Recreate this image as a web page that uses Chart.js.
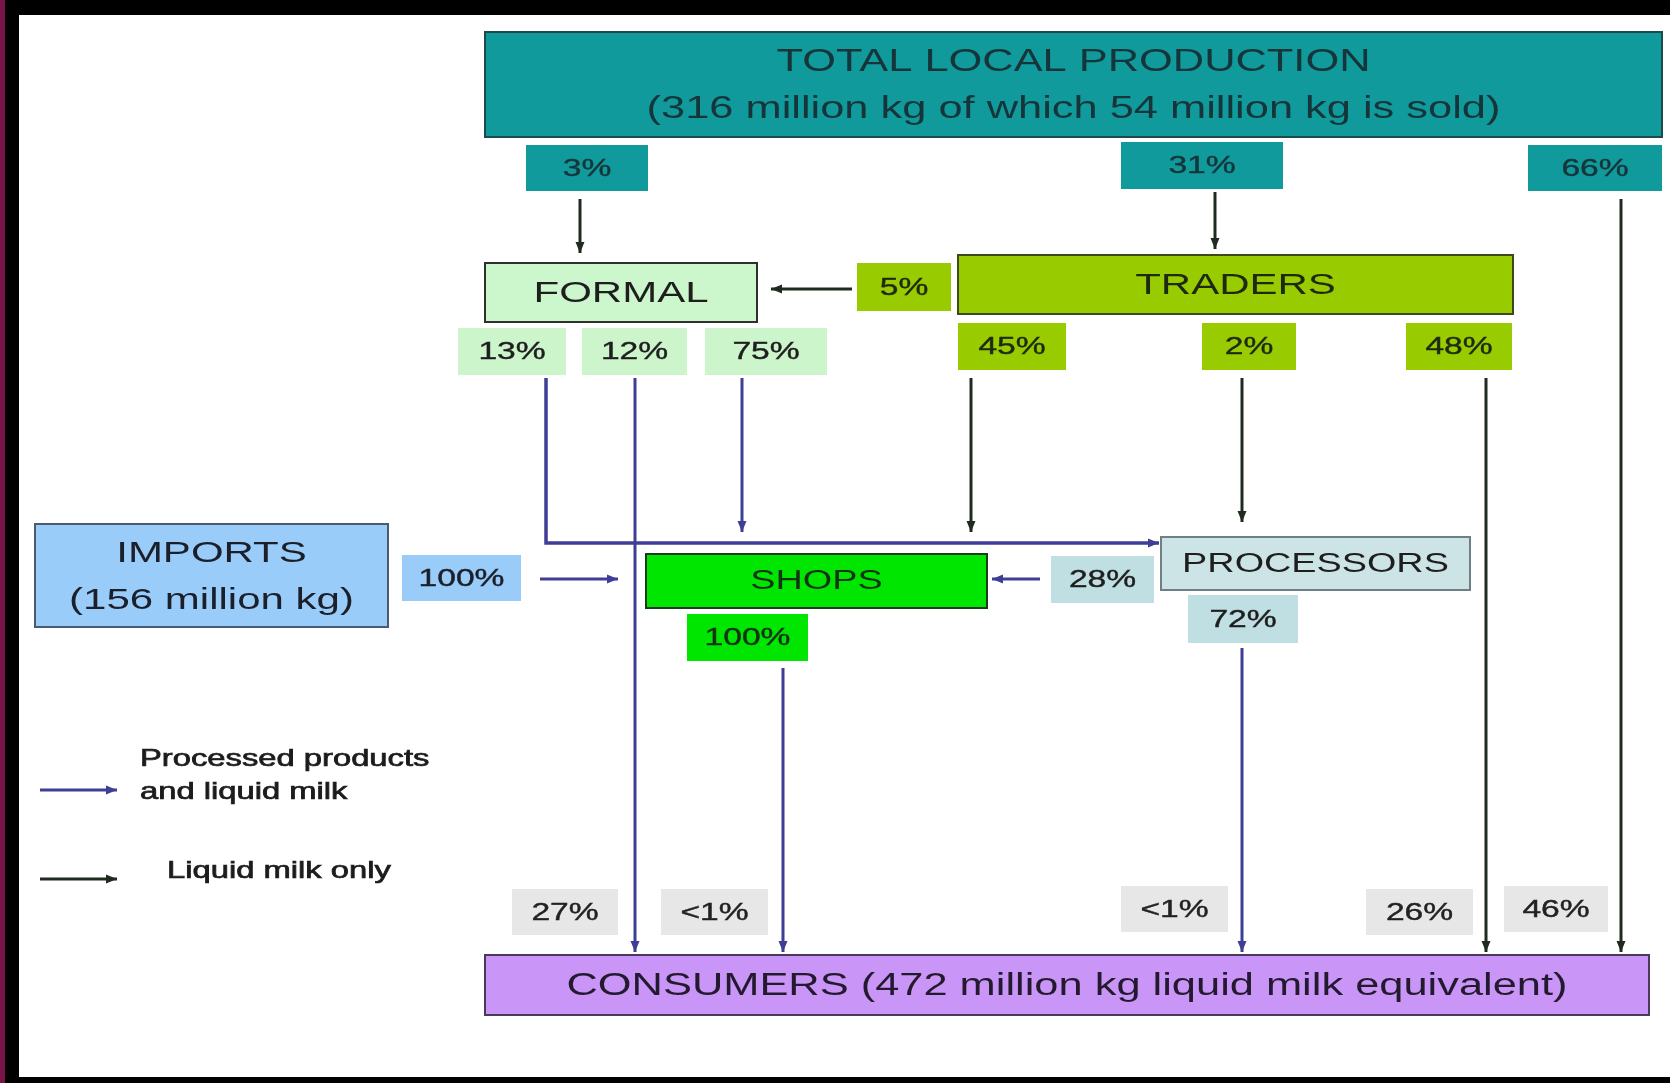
<!DOCTYPE html>
<html>
<head>
<meta charset="utf-8">
<title>Milk flow</title>
<script src="https://cdn.jsdelivr.net/npm/chart.js@4"></script>
<style>
  html, body { margin: 0; padding: 0; background: #fff; }
  #wrap { width: 1670px; height: 1083px; }
</style>
</head>
<body>
<div id="wrap"><canvas id="flowChart" width="1670" height="1083"></canvas></div>
<script>
// ---- data ----
const nodeNames = ['TOTAL LOCAL PRODUCTION', 'FORMAL', 'TRADERS', 'IMPORTS', 'SHOPS', 'PROCESSORS', 'CONSUMERS'];
const nodeNotes = ['(316 million kg of which 54 million kg is sold)', '', '', '(156 million kg)', '', '', '(472 million kg liquid milk equivalent)'];
const productionShares = ['3%', '31%', '66%'];
const tradersToFormal = ['5%'];
const formalShares = ['13%', '12%', '75%'];
const tradersShares = ['45%', '2%', '48%'];
const importShares = ['100%'];
const processorShares = ['28%', '72%'];
const shopShares = ['100%'];
const consumerShares = ['27%', '<1%', '<1%', '26%', '46%'];
const legendLabels = [['Processed products', 'and liquid milk'], ['Liquid milk only']];

// ---- layout (diagram units = 0..1670 by 0..1083) ----
const STRETCH = 1.4;
const PURPLE = '#3e3e96';
const DARK = '#1e2b1e';

const nodeBoxes = [
  { x0: 485, y0: 32, x1: 1662, y1: 137, fill: '#119a9b', stroke: '#1d4a4a', size: 31, color: '#15353a' },
  { x0: 485, y0: 263, x1: 757, y1: 322, fill: '#ccf6cc', stroke: '#2f2f2f', size: 30, color: '#1e1e1e' },
  { x0: 958, y0: 255, x1: 1513, y1: 314, fill: '#99cc00', stroke: '#3a4a1a', size: 30, color: '#1e2a10' },
  { x0: 35, y0: 524, x1: 388, y1: 627, fill: '#99ccf8', stroke: '#4a5a70', size: 30, color: '#1a1f2a' },
  { x0: 646, y0: 554, x1: 987, y1: 608, fill: '#00e600', stroke: '#1e3a1e', size: 27, color: '#143214' },
  { x0: 1161, y0: 537, x1: 1470, y1: 590, fill: '#cde4e7', stroke: '#6f8084', size: 27, color: '#1e1e1e' },
  { x0: 485, y0: 955, x1: 1649, y1: 1015, fill: '#c996f7', stroke: '#4a3a5a', size: 31, color: '#241a30' }
];

const shareBoxes = [
  { list: productionShares, fill: '#119a9b', color: '#15353a', boxes: [[526, 145, 648, 191], [1121, 142, 1283, 189], [1528, 145, 1662, 191]] },
  { list: tradersToFormal, fill: '#99cc00', color: '#1e2a10', boxes: [[857, 263, 951, 311]] },
  { list: formalShares, fill: '#ccf5cc', color: '#1e1e1e', boxes: [[458, 328, 566, 375], [582, 328, 687, 375], [705, 328, 827, 375]] },
  { list: tradersShares, fill: '#99cc00', color: '#1e2a10', boxes: [[958, 323, 1066, 370], [1202, 323, 1296, 370], [1406, 323, 1512, 370]] },
  { list: importShares, fill: '#99ccf8', color: '#1a1f2a', boxes: [[402, 555, 521, 601]] },
  { list: processorShares, fill: '#c0dfe3', color: '#1e1e1e', boxes: [[1051, 556, 1154, 603], [1188, 595, 1298, 643]] },
  { list: shopShares, fill: '#00e600', color: '#143214', boxes: [[687, 614, 808, 661]] },
  { list: consumerShares, fill: '#e7e7e7', color: '#222', boxes: [[512, 889, 618, 935], [661, 889, 768, 935], [1121, 886, 1228, 932], [1366, 889, 1473, 935], [1504, 886, 1608, 932]] }
];

// polylines, last point gets the arrow head
const flows = [
  { color: DARK, pts: [[580, 199], [580, 253]] },
  { color: DARK, pts: [[1215, 192], [1215, 249]] },
  { color: DARK, pts: [[1621, 199], [1621, 952]] },
  { color: DARK, pts: [[852, 289], [771, 289]] },
  { color: PURPLE, pts: [[546, 378], [546, 543], [1159, 543]], width: 3.5 },
  { color: PURPLE, pts: [[635, 378], [635, 952]] },
  { color: PURPLE, pts: [[742, 378], [742, 532]] },
  { color: DARK, pts: [[971, 378], [971, 532]] },
  { color: DARK, pts: [[1242, 378], [1242, 522]] },
  { color: DARK, pts: [[1486, 378], [1486, 952]] },
  { color: PURPLE, pts: [[540, 579], [618, 579]] },
  { color: PURPLE, pts: [[1040, 579], [992, 579]] },
  { color: PURPLE, pts: [[1242, 648], [1242, 952]] },
  { color: PURPLE, pts: [[783, 668], [783, 952]] },
  { color: PURPLE, pts: [[40, 790], [117, 790]] },
  { color: DARK, pts: [[40, 879], [117, 879]] }
];

const legendText = [
  { x: 140, ys: [760, 793] },
  { x: 167, ys: [872] }
];

function drawText(ctx, text, cx, cy, size, color, align, heavy) {
  ctx.save();
  ctx.font = size + 'px "Liberation Sans", Arial, sans-serif';
  ctx.fillStyle = color;
  ctx.textAlign = align || 'center';
  ctx.textBaseline = 'middle';
  ctx.translate(cx, cy);
  ctx.scale(STRETCH, 1);
  ctx.fillText(text, 0, 0);
  if (heavy) {
    ctx.strokeStyle = color;
    ctx.lineWidth = heavy;
    ctx.strokeText(text, 0, 0);
  }
  ctx.restore();
}

const flowPlugin = {
  id: 'flowPlugin',
  beforeDraw(chart) {
    const ctx = chart.ctx;
    const w = chart.width, h = chart.height;
    ctx.save();
    ctx.fillStyle = '#ffffff';
    ctx.fillRect(0, 0, w, h);
    // frame
    ctx.fillStyle = '#000';
    ctx.fillRect(0, 0, w, 15);
    ctx.fillRect(0, h - 6, w, 6);
    ctx.fillRect(5, 0, 14, h);
    ctx.fillStyle = '#7a1446';
    ctx.fillRect(0, 0, 5, h);
    ctx.restore();
  },
  afterDraw(chart) {
    const ctx = chart.ctx;
    const sx = chart.scales.x, sy = chart.scales.y;
    const px = v => sx.getPixelForValue(v);
    const py = v => sy.getPixelForValue(v);

    // share label boxes
    shareBoxes.forEach(group => {
      group.list.forEach((label, i) => {
        const b = group.boxes[i];
        ctx.fillStyle = group.fill;
        ctx.fillRect(px(b[0]), py(b[1]), px(b[2]) - px(b[0]), py(b[3]) - py(b[1]));
        drawText(ctx, label, (px(b[0]) + px(b[2])) / 2, (py(b[1]) + py(b[3])) / 2 + 1, 24, group.color, 'center', 0.4);
      });
    });

    // flow lines and arrow heads
    flows.forEach(f => {
      ctx.save();
      ctx.strokeStyle = f.color;
      ctx.fillStyle = f.color;
      ctx.lineWidth = f.width || 3;
      ctx.beginPath();
      f.pts.forEach((p, i) => {
        const X = px(p[0]), Y = py(p[1]);
        if (i === 0) ctx.moveTo(X, Y); else ctx.lineTo(X, Y);
      });
      ctx.stroke();
      const a = f.pts[f.pts.length - 2], b = f.pts[f.pts.length - 1];
      const ang = Math.atan2(py(b[1]) - py(a[1]), px(b[0]) - px(a[0]));
      const tx = px(b[0]), ty = py(b[1]);
      ctx.beginPath();
      ctx.moveTo(tx, ty);
      ctx.lineTo(tx - 11 * Math.cos(ang) + 4.5 * Math.sin(ang), ty - 11 * Math.sin(ang) - 4.5 * Math.cos(ang));
      ctx.lineTo(tx - 11 * Math.cos(ang) - 4.5 * Math.sin(ang), ty - 11 * Math.sin(ang) + 4.5 * Math.cos(ang));
      ctx.closePath();
      ctx.fill();
      ctx.restore();
    });

    // main nodes
    nodeNames.forEach((name, i) => {
      const b = nodeBoxes[i];
      const x0 = px(b.x0), y0 = py(b.y0), x1 = px(b.x1), y1 = py(b.y1);
      ctx.fillStyle = b.fill;
      ctx.fillRect(x0, y0, x1 - x0, y1 - y0);
      ctx.strokeStyle = b.stroke;
      ctx.lineWidth = 2;
      ctx.strokeRect(x0, y0, x1 - x0, y1 - y0);
      const cx = (x0 + x1) / 2, cy = (y0 + y1) / 2;
      const note = nodeNotes[i];
      if (note && i !== 6) {
        drawText(ctx, name, cx, cy - 22, b.size, b.color);
        drawText(ctx, note, cx, cy + 25, b.size, b.color);
      } else if (note) {
        drawText(ctx, name + ' ' + note, cx, cy + 1, b.size, b.color);
      } else {
        drawText(ctx, name, cx, cy + 1, b.size, b.color);
      }
    });

    // legend text
    legendLabels.forEach((lines, i) => {
      lines.forEach((t, j) => {
        drawText(ctx, t, px(legendText[i].x), py(legendText[i].ys[j]), 23.4, '#1c1c1c', 'left', 0.7);
      });
    });
  }
};

new Chart(document.getElementById('flowChart'), {
  type: 'scatter',
  data: { datasets: [{ data: [], pointRadius: 0 }] },
  options: {
    responsive: false,
    animation: false,
    devicePixelRatio: 1,
    layout: { padding: 0 },
    plugins: { legend: { display: false }, tooltip: { enabled: false } },
    scales: {
      x: { type: 'linear', min: 0, max: 1670, display: false },
      y: { type: 'linear', min: 0, max: 1083, reverse: true, display: false }
    }
  },
  plugins: [flowPlugin]
});
</script>
</body>
</html>
